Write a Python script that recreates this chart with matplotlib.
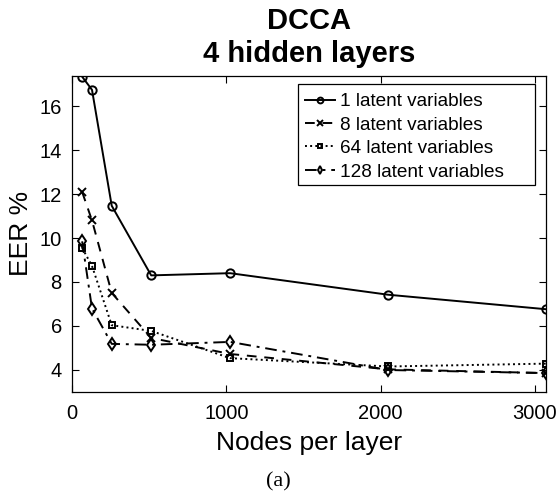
import matplotlib
matplotlib.use("Agg")
import matplotlib.pyplot as plt
from matplotlib.patches import Rectangle

nodes = [64, 128, 256, 512, 1024, 2048, 3072]
eer_1 = [17.35, 16.75, 11.47, 8.3, 8.4, 7.42, 6.76]
eer_8 = [12.1, 10.8, 7.5, 5.45, 4.72, 4.02, 3.85]
eer_64 = [9.55, 8.73, 6.03, 5.77, 4.53, 4.15, 4.28]
eer_128 = [9.85, 6.79, 5.18, 5.14, 5.27, 3.99, 3.85]
labels = ["1 latent variables", "8 latent variables", "64 latent variables", "128 latent variables"]
xticks = [0, 1000, 2000, 3000]
yticks = [4, 6, 8, 10, 12, 14, 16]

plt.rcParams['font.family'] = ['Liberation Sans', 'DejaVu Sans']

fig = plt.figure(figsize=(5.56, 4.94), dpi=100)
ax = fig.add_axes([0.130, 0.207, 0.8515, 0.640])

lw = 1.4
ax.plot(nodes, eer_1, '-', color='black', lw=lw, marker='o', ms=6, mfc='none', mew=1.4, label=labels[0])
ax.plot(nodes, eer_8, '--', color='black', lw=lw, marker='x', ms=6, mew=1.4, label=labels[1], dashes=(5, 4))
ax.plot(nodes, eer_64, ':', color='black', lw=lw, marker='s', ms=5, mfc='none', mew=1.4, label=labels[2])
ax.plot(nodes, eer_128, '-.', color='black', lw=lw, marker='d', ms=6, mfc='none', mew=1.4, label=labels[3], dashes=(6, 3, 1.5, 3))

ax.set_xlim(0, 3072)
ax.set_ylim(3, 17.4)
ax.set_xticks(xticks)
ax.set_yticks(yticks)
ax.tick_params(direction='in', top=True, right=True, labelsize=14.5, length=5, width=0.8)
ax.tick_params(axis='x', pad=9)
ax.tick_params(axis='y', pad=7.5)
for s in ax.spines.values():
    s.set_linewidth(0.9)

ax.set_xlabel("Nodes per layer", fontsize=19)
ax.xaxis.set_label_coords(0.5, -0.125)
ax.set_ylabel("EER %", fontsize=19)
ax.yaxis.set_label_coords(-0.083, 0.5)
ax.set_title("DCCA\n4 hidden layers", fontsize=21, fontweight='bold', linespacing=1.2, pad=10)

# legend frame (MATLAB style, wider than the text)
frame = Rectangle((0.4774, 0.654), 0.500, 0.3207, transform=ax.transAxes,
                  facecolor='white', edgecolor='black', lw=0.9, zorder=4.5)
ax.add_patch(frame)
leg = ax.legend(loc='upper left', bbox_to_anchor=(0.4916, 0.945), fontsize=13.7, frameon=False,
                handlelength=1.58, handletextpad=0.26, markerscale=0.7,
                labelspacing=0.32, borderpad=0.0, borderaxespad=0.0)
leg.set_zorder(5)

fig.text(0.5, 0.0243, "(a)", ha='center', va='center', fontsize=16, family='Liberation Serif')

fig.savefig("out.png", dpi=100)
